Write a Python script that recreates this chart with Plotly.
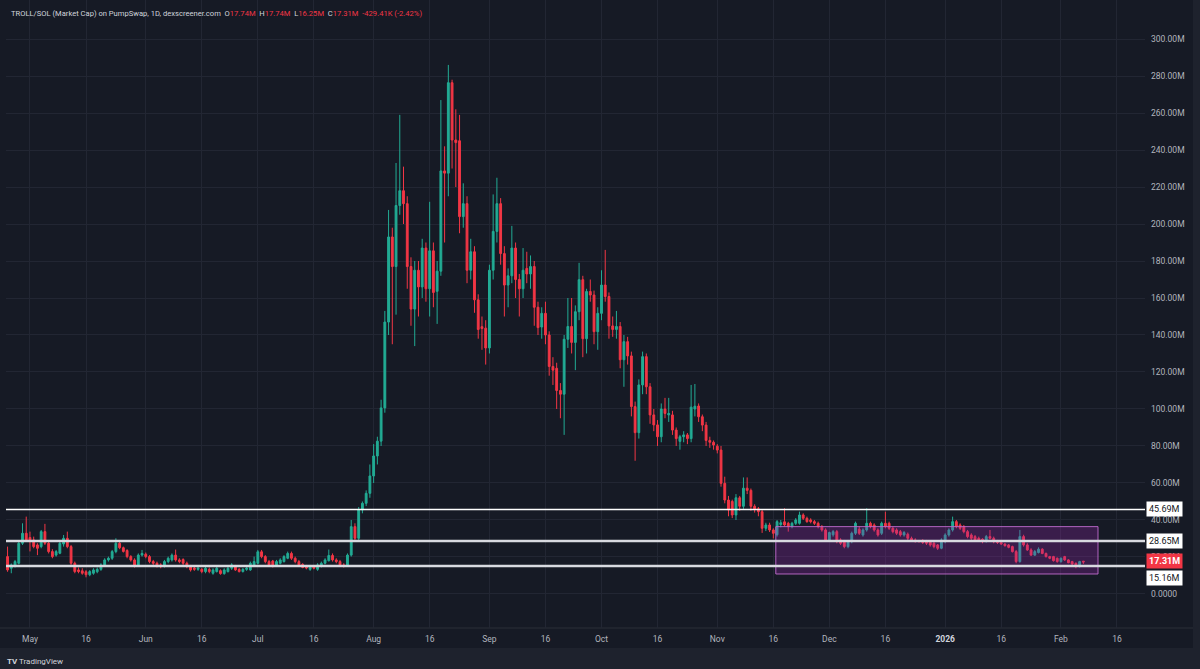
import pandas as pd
import plotly.graph_objects as go

# ---- data (values in millions USD market cap) ----
start_date = "2025-04-25"
opens = [20.2, 13.9, 15.1, 16.6, 27.4, 32.8, 30.5, 29.2, 26.5, 25.6, 33.7, 27.4, 22.9, 21.0, 22.0, 27.0, 30.1, 25.6, 16.6, 13.0,
         12.5, 12.0, 10.4, 11.2, 12.0, 13.3, 15.7, 18.4, 19.3, 22.9, 27.4, 25.0, 23.5, 20.2, 18.4, 15.7, 21.0, 21.5, 20.2, 17.5,
         16.6, 15.7, 15.1, 17.5, 18.4, 21.0, 18.4, 18.6, 16.6, 14.8, 14.0, 13.3, 13.3, 12.1, 13.3, 11.2, 12.1, 12.6, 11.0, 12.1,
         13.9, 15.0, 13.3, 12.1, 13.3, 13.0, 15.7, 16.6, 22.8, 20.2, 17.5, 17.8, 15.7, 16.6, 17.5, 19.3, 21.9, 19.3, 17.5, 16.0,
         14.8, 13.3, 15.1, 13.3, 15.0, 16.6, 18.0, 20.8, 18.4, 17.5, 15.7, 15.7, 21.0, 36.4, 30.1, 45.4, 49.0,
         54.4, 63.8, 74.6, 82.6, 100.6, 147.0, 193.0, 177.0, 210.0, 218.0, 211.0, 177.0, 154.0, 175.0, 166.0, 187.0, 165.0, 185.5, 163.6, 174.5,
         228.7, 227.5, 276.4, 245.4, 245.0, 204.0, 211.0, 175.0, 185.0, 159.0, 144.5, 143.7, 133.0, 175.0, 196.0, 211.0, 184.0, 167.0, 172.0, 187.0,
         170.0, 165.0, 176.0, 173.0, 177.0,
         155.0, 144.3, 151.7, 140.0, 123.0, 122.0, 110.0, 108.0, 137.7, 144.6, 136.0, 152.6, 169.9, 138.0, 163.5, 161.6, 141.8, 151.7, 167.0, 160.8,
         144.9, 143.0, 144.6, 126.6, 136.4, 128.7, 101.3, 87.2, 113.0, 128.3, 112.0, 96.8, 91.4, 85.0, 100.0, 96.8, 96.8, 88.6, 82.5, 85.0,
         86.0, 84.0, 100.0, 101.6, 95.8, 91.3, 83.0, 82.0, 79.9, 77.8, 59.8, 50.8, 50.0, 42.7, 52.0, 47.4, 57.2, 56.0, 47.4, 46.0,
         44.5, 35.5, 37.3, 34.6, 32.0, 37.5, 39.0, 38.2, 36.4, 38.2, 38.2, 42.7, 40.9, 40.0, 39.1, 38.2, 36.4, 34.6, 29.2, 32.0,
         33.7, 29.2, 28.3, 25.6, 28.3, 32.8, 35.0, 31.9, 34.6, 38.2, 37.3, 34.6, 32.8, 38.2, 38.2, 35.5, 34.6, 33.7, 31.9, 32.3,
         30.1, 29.2, 28.8, 28.8, 28.3, 28.3, 27.4, 26.5, 24.7, 28.3, 31.9, 34.6, 39.1, 37.3, 36.4, 33.7, 31.9, 31.0, 30.1, 29.6,
         28.3, 31.0, 30.1, 28.8, 27.8, 27.0, 26.5, 25.6, 22.9, 17.5, 31.0, 26.5, 23.8, 21.0, 22.4, 24.2, 21.9, 20.2, 20.2, 19.3,
         17.5, 20.2, 18.4, 17.5, 16.6, 14.8, 17.74]
highs = [25.6, 16.5, 18.4, 28.3, 38.2, 41.8, 33.7, 31.0, 27.4, 34.6, 37.9, 28.3, 24.2, 23.8, 28.3, 31.9, 33.7, 26.5, 17.5, 14.3,
         13.9, 12.9, 12.9, 13.9, 14.3, 16.6, 19.3, 20.2, 23.8, 30.1, 28.3, 25.6, 24.2, 21.0, 19.3, 21.9, 23.8, 22.4, 21.0, 18.4,
         17.5, 16.6, 18.4, 20.2, 21.9, 24.0, 19.3, 19.3, 17.5, 15.7, 14.8, 14.8, 14.0, 14.8, 14.3, 13.9, 14.8, 13.3, 13.9, 14.8,
         16.6, 15.7, 14.0, 14.0, 14.8, 17.5, 20.2, 23.8, 23.8, 21.0, 18.4, 18.4, 18.4, 19.3, 21.0, 22.9, 22.9, 20.2, 18.4, 16.6,
         15.7, 15.7, 15.7, 16.6, 17.5, 19.3, 24.0, 21.9, 19.3, 18.4, 16.6, 21.9, 40.0, 38.2, 47.0, 50.0, 56.0,
         70.0, 81.0, 85.0, 105.0, 153.0, 207.6, 198.0, 233.0, 259.0, 231.0, 215.0, 182.0, 180.0, 180.0, 192.0, 190.0, 212.0, 190.0, 180.0, 267.0,
         242.0, 286.0, 278.0, 262.0, 259.0, 222.0, 215.0, 192.0, 188.0, 162.0, 150.0, 148.0, 178.0, 216.0, 225.0, 214.0, 188.0, 176.0, 199.0, 190.0,
         173.0, 187.0, 185.0, 183.0, 180.0,
         158.0, 155.0, 158.0, 142.0, 128.0, 125.0, 114.0, 140.0, 160.0, 160.0, 156.0, 179.0, 172.0, 165.0, 170.0, 164.0, 155.0, 175.0, 186.0, 163.0,
         150.0, 153.0, 147.0, 140.0, 139.0, 131.0, 104.0, 116.0, 131.0, 130.0, 114.0, 100.0, 94.0, 103.0, 106.0, 106.0, 99.0, 90.0, 86.0, 88.0,
         87.0, 113.0, 113.5, 103.0, 97.0, 93.0, 85.0, 83.0, 81.0, 80.0, 63.4, 53.0, 51.0, 54.0, 53.0, 63.0, 63.0, 57.0, 48.5, 47.0,
         45.5, 38.5, 38.5, 35.5, 40.0, 40.0, 46.3, 39.0, 39.0, 41.0, 44.5, 43.6, 41.8, 40.9, 40.0, 39.1, 37.3, 35.5, 33.7, 34.6,
         34.6, 30.1, 29.2, 29.2, 33.7, 39.1, 36.4, 35.5, 46.3, 39.1, 38.2, 35.5, 39.1, 44.5, 39.1, 36.4, 35.5, 34.6, 34.0, 33.2,
         31.0, 30.1, 29.2, 29.6, 29.2, 28.8, 28.3, 27.0, 30.1, 32.8, 35.5, 41.8, 40.0, 38.2, 37.3, 34.6, 32.8, 31.9, 31.0, 30.1,
         31.9, 34.6, 31.0, 29.2, 28.3, 27.4, 27.0, 26.1, 23.8, 34.6, 32.0, 27.4, 24.7, 23.8, 25.2, 24.7, 22.4, 20.6, 20.6, 19.7,
         19.7, 20.6, 18.8, 17.9, 17.0, 17.9, 17.74]
lows = [12.0, 11.2, 14.3, 16.0, 26.5, 28.3, 23.0, 24.7, 21.0, 24.7, 26.5, 21.9, 19.3, 20.2, 21.5, 25.6, 24.7, 15.7, 11.2, 11.2,
        10.4, 9.0, 9.6, 10.4, 11.2, 12.5, 14.8, 17.5, 18.4, 22.0, 24.2, 22.4, 19.3, 17.5, 14.3, 14.8, 20.2, 19.3, 16.6, 15.7,
        14.3, 13.9, 14.3, 16.6, 17.5, 17.5, 16.6, 15.7, 13.9, 12.1, 12.5, 12.5, 11.2, 11.2, 11.2, 10.4, 11.6, 10.4, 10.4, 11.6,
        13.0, 12.5, 11.6, 11.6, 12.5, 12.5, 15.1, 16.0, 19.3, 16.6, 15.1, 14.3, 15.1, 16.0, 17.0, 18.8, 18.4, 16.6, 15.1, 13.9,
        13.3, 12.5, 13.3, 12.5, 14.3, 16.0, 17.5, 17.5, 16.6, 15.1, 14.3, 15.1, 20.2, 28.3, 29.2, 43.6, 47.5,
        52.0, 60.0, 70.0, 80.0, 98.0, 140.0, 135.0, 151.0, 205.0, 200.0, 165.0, 145.0, 134.0, 150.0, 160.0, 158.0, 150.0, 155.0, 146.0, 172.0,
        190.0, 215.0, 230.0, 220.0, 195.0, 198.0, 168.0, 170.0, 152.0, 138.0, 132.0, 124.0, 130.0, 170.0, 190.0, 178.0, 150.0, 155.0, 168.0, 160.0,
        150.0, 160.0, 168.0, 165.0, 145.0,
        140.0, 138.0, 135.0, 118.0, 113.0, 100.0, 95.0, 86.0, 133.0, 130.0, 121.0, 148.0, 128.0, 130.0, 158.0, 135.0, 132.0, 148.0, 158.0, 138.0,
        139.0, 138.0, 122.0, 112.0, 124.0, 96.0, 72.0, 84.0, 108.0, 108.0, 92.0, 88.0, 80.0, 82.0, 95.0, 93.0, 86.0, 80.0, 78.0, 82.0,
        81.0, 82.0, 96.0, 93.0, 88.0, 80.0, 79.0, 78.0, 76.0, 58.0, 49.0, 42.0, 41.0, 40.0, 45.0, 46.0, 54.0, 45.0, 44.0, 42.0,
        33.0, 34.0, 33.5, 30.0, 31.0, 36.0, 36.5, 33.7, 35.5, 37.3, 37.5, 40.0, 38.5, 38.2, 37.3, 35.5, 33.7, 28.3, 28.3, 31.0,
        27.4, 26.5, 24.7, 24.7, 27.4, 31.9, 31.9, 31.0, 33.7, 35.5, 33.7, 31.0, 31.9, 35.5, 34.6, 32.8, 31.9, 31.0, 31.0, 29.2,
        28.3, 27.8, 27.8, 27.0, 26.5, 25.6, 24.7, 23.8, 24.2, 27.4, 31.0, 33.7, 35.5, 34.6, 32.8, 30.1, 29.2, 28.3, 28.3, 27.4,
        27.8, 29.6, 27.4, 27.0, 26.5, 25.6, 24.7, 22.4, 16.6, 16.9, 25.6, 23.3, 20.6, 20.6, 21.9, 21.5, 19.7, 18.8, 17.5, 16.9,
        16.9, 17.9, 16.6, 15.7, 13.9, 14.3, 16.25]
closes = [13.0, 15.7, 17.5, 27.4, 32.8, 29.2, 28.4, 25.6, 24.7, 33.7, 27.4, 22.9, 20.2, 22.9, 27.4, 30.1, 25.6, 16.6, 12.1, 12.1,
          11.2, 10.4, 12.1, 13.0, 13.3, 15.7, 18.4, 19.3, 22.9, 27.4, 25.0, 23.0, 20.2, 18.4, 15.1, 21.0, 21.9, 20.2, 17.5, 16.6,
          15.1, 14.8, 17.5, 19.3, 21.0, 18.4, 17.5, 16.6, 14.8, 13.0, 13.3, 14.0, 12.1, 13.9, 12.1, 13.0, 13.9, 11.0, 13.0, 13.9,
          15.7, 13.0, 12.1, 13.3, 14.0, 16.6, 17.5, 22.8, 20.2, 17.5, 15.7, 15.1, 17.5, 18.4, 20.2, 21.9, 19.3, 17.5, 15.7, 14.3,
          14.0, 15.1, 13.9, 15.7, 16.6, 18.4, 20.8, 18.4, 17.5, 15.7, 15.1, 21.0, 36.4, 30.1, 45.4, 49.0, 54.4,
          63.8, 74.6, 82.6, 100.6, 147.0, 193.0, 177.0, 210.0, 218.0, 211.0, 177.0, 154.0, 175.0, 166.0, 187.0, 165.0, 185.5, 163.0, 174.5, 228.7,
          227.5, 276.4, 245.4, 244.0, 204.0, 211.0, 175.0, 185.0, 159.0, 143.0, 143.5, 133.0, 175.0, 196.0, 211.0, 184.0, 167.0, 172.0, 187.0, 170.0,
          165.0, 175.0, 173.0, 177.0, 155.0,
          144.0, 151.7, 140.0, 123.0, 121.0, 110.0, 108.0, 137.7, 144.6, 136.0, 152.6, 169.9, 138.0, 163.5, 161.6, 141.8, 151.7, 167.0, 160.8, 144.9,
          143.0, 144.6, 126.6, 136.4, 128.7, 101.3, 87.2, 113.0, 128.3, 112.0, 96.8, 91.4, 85.0, 100.0, 97.6, 97.6, 88.6, 84.0, 85.0, 86.0,
          84.0, 101.0, 101.5, 95.8, 91.3, 83.0, 82.0, 80.5, 77.8, 59.8, 50.8, 45.4, 42.7, 52.0, 47.4, 57.2, 56.0, 47.4, 46.0, 44.5,
          35.5, 37.3, 34.6, 32.8, 39.1, 38.5, 37.3, 36.4, 38.2, 40.0, 42.7, 40.9, 39.1, 39.1, 38.2, 36.4, 34.6, 29.2, 33.2, 33.7,
          28.3, 27.4, 25.6, 28.3, 32.8, 38.2, 32.8, 34.6, 38.2, 36.4, 34.6, 31.9, 38.2, 36.4, 35.5, 33.7, 32.8, 31.9, 33.2, 30.1,
          28.8, 28.3, 28.3, 27.8, 27.4, 26.5, 25.6, 24.7, 29.2, 31.9, 34.6, 39.1, 36.4, 35.5, 33.7, 31.0, 30.1, 29.2, 28.8, 28.3,
          31.0, 30.1, 28.3, 27.8, 27.0, 26.1, 25.2, 22.9, 17.5, 31.0, 26.5, 23.8, 21.0, 22.9, 24.2, 21.9, 20.2, 19.3, 18.0, 17.5,
          19.3, 18.4, 16.9, 16.2, 14.8, 17.5, 17.31]

level_lines = [45.69, 28.65, 15.16]
level_label_shift = [0, 0, -12]   # TradingView pushes overlapping price labels apart
last_price = 17.31
zone_low, zone_high = 10.8, 36.4
zone_start, zone_end = "2025-11-16 16:00", "2026-02-10 22:00"

x_tick_dates = ["2025-05-01", "2025-05-16", "2025-06-01", "2025-06-16", "2025-07-01", "2025-07-16",
                "2025-08-01", "2025-08-16", "2025-09-01", "2025-09-16", "2025-10-01", "2025-10-16",
                "2025-11-01", "2025-11-16", "2025-12-01", "2025-12-16", "2026-01-01", "2026-01-16",
                "2026-02-01", "2026-02-16"]
x_tick_labels = ["May", "16", "Jun", "16", "Jul", "16", "Aug", "16", "Sep", "16", "Oct", "16",
                 "Nov", "16", "Dec", "16", "<b><span style='color:#d1d4dc'>2026</span></b>", "16", "Feb", "16"]
y_tick_vals = list(range(0, 301, 20))
y_tick_labels = ["0.0000"] + [f"{v:.2f}M" for v in y_tick_vals[1:]]

dates = pd.date_range(start_date, periods=len(closes), freq="D")

UP = "#22ab94"
DOWN = "#f23645"
PANE = "#161a25"
FRAME = "#1e222d"
GRID = "#222633"
TXT = "#b2b5be"
FS = 8.5

fig = go.Figure()
fig.add_trace(go.Candlestick(
    x=dates, open=opens, high=highs, low=lows, close=closes,
    increasing=dict(line=dict(color=UP, width=1), fillcolor=UP),
    decreasing=dict(line=dict(color=DOWN, width=1), fillcolor=DOWN),
    whiskerwidth=0, showlegend=False, hoverinfo="skip",
))

shapes = []
shapes.append(dict(type="rect", xref="paper", yref="paper", x0=-6/1139, x1=1187/1139, y0=-20/628, y1=1,
                   fillcolor=PANE, line=dict(width=0), layer="below"))
shapes.append(dict(type="line", xref="paper", yref="paper", x0=-6/1139, x1=1187/1139, y0=0, y1=0,
                   line=dict(color="#2a2e39", width=1), layer="below"))
shapes.append(dict(type="rect", xref="x", yref="y", x0=zone_start, x1=zone_end, y0=zone_low, y1=zone_high,
                   fillcolor="rgba(156,39,176,0.28)", line=dict(color="rgba(186,104,200,0.95)", width=1), layer="above"))
for i, lv in enumerate(level_lines):
    shapes.append(dict(type="line", xref="paper", yref="y", x0=0, x1=1, y0=lv, y1=lv,
                       line=dict(color="#ffffff" if i == 0 else "#d8dae0", width=1.5 if i == 0 else 2.5), layer="above"))

annotations = []
for lv, sh in zip(level_lines, level_label_shift):
    annotations.append(dict(xref="paper", yref="y", x=1, y=lv, xanchor="left", yanchor="middle", xshift=1, yshift=sh,
                            text=f"{lv:.2f}M", showarrow=False, bgcolor="#ffffff", borderpad=2,
                            font=dict(color="#131722", size=9, family="Roboto")))
annotations.append(dict(xref="paper", yref="y", x=1, y=last_price, xanchor="left", yanchor="middle", xshift=1, yshift=1,
                        text=f"<b>{last_price:.2f}M</b>", showarrow=False, bgcolor=DOWN, borderpad=2,
                        font=dict(color="#ffffff", size=9, family="Roboto")))
hdr = ("<span style='color:#d1d4dc'>TROLL/SOL (Market Cap) on PumpSwap, 1D, dexscreener.com</span>"
       "&nbsp;&nbsp;<span style='color:#d1d4dc'>O</span><span style='color:#f23645'>17.74M</span>"
       "&nbsp;&nbsp;<span style='color:#d1d4dc'>H</span><span style='color:#f23645'>17.74M</span>"
       "&nbsp;&nbsp;<span style='color:#d1d4dc'>L</span><span style='color:#f23645'>16.25M</span>"
       "&nbsp;&nbsp;<span style='color:#d1d4dc'>C</span><span style='color:#f23645'>17.31M</span>"
       "&nbsp;&nbsp;<span style='color:#f23645'>-429.41K (-2.42%)</span>")
annotations.append(dict(xref="paper", yref="paper", x=0, y=1, xanchor="left", yanchor="top", xshift=3, yshift=-7,
                        text=hdr, showarrow=False, align="left", font=dict(size=7.6, family="Roboto")))
annotations.append(dict(xref="paper", yref="paper", x=0, y=0, xanchor="left", yanchor="top", xshift=-1, yshift=-27,
                        text="<b>TV</b> TradingView", showarrow=False, font=dict(size=8, color="#d1d4dc", family="Roboto")))

fig.update_layout(
    width=1200, height=669,
    margin=dict(l=6, r=55, t=0, b=41),
    paper_bgcolor=FRAME, plot_bgcolor="rgba(0,0,0,0)",
    shapes=shapes, annotations=annotations,
    showlegend=False,
    font=dict(family="Roboto", color=TXT, size=FS),
    xaxis=dict(range=["2025-04-24 14:00", "2026-02-23 12:00"], rangeslider=dict(visible=False),
               tickvals=x_tick_dates, ticktext=x_tick_labels, showgrid=True, gridcolor=GRID, gridwidth=1,
               zeroline=False, showline=False, ticks="", ticklabelstandoff=4, tickfont=dict(color=TXT, size=FS)),
    yaxis=dict(range=[-18.4, 321.1], side="right", tickvals=y_tick_vals, ticktext=y_tick_labels,
               showgrid=True, gridcolor=GRID, gridwidth=1, zeroline=False, showline=False, ticks="",
               ticklabelstandoff=5, tickfont=dict(color=TXT, size=FS)),
)

fig.write_html("out.html")
